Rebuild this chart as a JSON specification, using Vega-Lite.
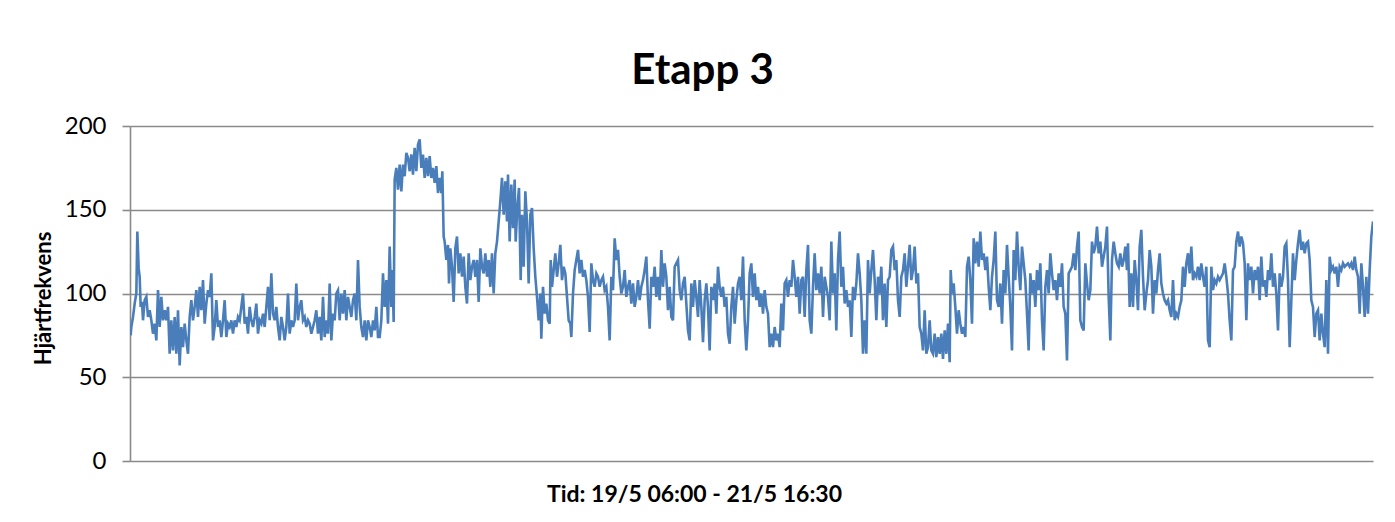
{
"$schema": "https://vega.github.io/schema/vega-lite/v6.json",
"width": 1243,
"height": 335,
"autosize": {"type": "none"},
"padding": {"left": 130, "top": 126, "right": 22, "bottom": 61},
"background": "white",
"title": {"text": "Etapp 3", "font": "Lato", "fontSize": 42, "fontWeight": "bold", "color": "#000000", "anchor": "middle", "frame": "bounds", "offset": 21},
"data": {"values": [
{"u":8,"v":75},{"u":10,"v":80},{"u":15,"v":86},{"u":20,"v":94},{"u":25,"v":100},{"u":28,"v":137},{"u":32,"v":115},{"u":35,"v":110},{"u":38,"v":92},{"u":42,"v":95},{"u":45,"v":84},{"u":50,"v":96},{"u":55,"v":98},{"u":60,"v":86},{"u":65,"v":90},{"u":70,"v":84},{"u":75,"v":76},{"u":80,"v":82},{"u":85,"v":72},{"u":90,"v":102},{"u":95,"v":80},{"u":100,"v":98},{"u":105,"v":84},{"u":110,"v":90},{"u":115,"v":84},{"u":120,"v":92},{"u":125,"v":64},{"u":130,"v":84},{"u":135,"v":66},{"u":140,"v":86},{"u":145,"v":64},{"u":150,"v":90},{"u":155,"v":57},{"u":160,"v":80},{"u":165,"v":68},{"u":170,"v":82},{"u":175,"v":72},{"u":180,"v":64},{"u":185,"v":86},{"u":190,"v":96},{"u":195,"v":84},{"u":200,"v":92},{"u":205,"v":102},{"u":210,"v":86},{"u":215,"v":104},{"u":220,"v":90},{"u":225,"v":108},{"u":230,"v":82},{"u":235,"v":94},{"u":240,"v":102},{"u":245,"v":98},{"u":250,"v":112},{"u":255,"v":72},{"u":260,"v":80},{"u":265,"v":96},{"u":270,"v":80},{"u":275,"v":84},{"u":280,"v":74},{"u":285,"v":84},{"u":290,"v":96},{"u":295,"v":74},{"u":300,"v":82},{"u":305,"v":80},{"u":310,"v":84},{"u":315,"v":76},{"u":320,"v":84},{"u":325,"v":80},{"u":330,"v":86},{"u":335,"v":84},{"u":340,"v":92},{"u":345,"v":100},{"u":350,"v":82},{"u":355,"v":86},{"u":360,"v":76},{"u":365,"v":92},{"u":370,"v":84},{"u":375,"v":80},{"u":380,"v":86},{"u":385,"v":94},{"u":390,"v":76},{"u":395,"v":84},{"u":400,"v":82},{"u":405,"v":88},{"u":410,"v":80},{"u":415,"v":92},{"u":420,"v":104},{"u":425,"v":84},{"u":430,"v":112},{"u":435,"v":88},{"u":440,"v":84},{"u":445,"v":92},{"u":450,"v":80},{"u":455,"v":72},{"u":460,"v":86},{"u":465,"v":80},{"u":470,"v":72},{"u":475,"v":80},{"u":480,"v":100},{"u":485,"v":76},{"u":490,"v":84},{"u":495,"v":80},{"u":500,"v":84},{"u":505,"v":106},{"u":510,"v":84},{"u":515,"v":92},{"u":520,"v":96},{"u":525,"v":84},{"u":530,"v":86},{"u":535,"v":80},{"u":540,"v":84},{"u":545,"v":82},{"u":550,"v":76},{"u":555,"v":80},{"u":560,"v":84},{"u":565,"v":90},{"u":570,"v":76},{"u":575,"v":86},{"u":580,"v":72},{"u":585,"v":98},{"u":590,"v":74},{"u":595,"v":84},{"u":600,"v":76},{"u":605,"v":106},{"u":610,"v":72},{"u":615,"v":88},{"u":620,"v":84},{"u":625,"v":100},{"u":630,"v":102},{"u":635,"v":84},{"u":640,"v":100},{"u":645,"v":88},{"u":650,"v":102},{"u":655,"v":84},{"u":660,"v":98},{"u":665,"v":92},{"u":670,"v":86},{"u":675,"v":96},{"u":680,"v":100},{"u":685,"v":84},{"u":690,"v":120},{"u":695,"v":92},{"u":700,"v":80},{"u":705,"v":74},{"u":710,"v":84},{"u":715,"v":72},{"u":720,"v":84},{"u":725,"v":80},{"u":730,"v":74},{"u":735,"v":84},{"u":740,"v":78},{"u":745,"v":92},{"u":750,"v":74},
{"u":755,"v":74},{"u":760,"v":84},{"u":765,"v":112},{"u":770,"v":92},{"u":775,"v":108},{"u":780,"v":82},{"u":785,"v":128},{"u":790,"v":92},{"u":793,"v":114},{"u":797,"v":83},{"u":800,"v":168},{"u":805,"v":175},{"u":810,"v":162},{"u":815,"v":177},{"u":820,"v":161},{"u":825,"v":177},{"u":830,"v":170},{"u":835,"v":184},{"u":840,"v":181},{"u":845,"v":173},{"u":850,"v":183},{"u":855,"v":171},{"u":860,"v":187},{"u":865,"v":173},{"u":870,"v":189},{"u":875,"v":192},{"u":880,"v":175},{"u":885,"v":183},{"u":890,"v":169},{"u":895,"v":181},{"u":900,"v":170},{"u":905,"v":182},{"u":910,"v":169},{"u":915,"v":175},{"u":920,"v":166},{"u":925,"v":176},{"u":930,"v":160},{"u":935,"v":169},{"u":940,"v":160},{"u":943,"v":173},{"u":947,"v":134},{"u":950,"v":131},{"u":955,"v":120},{"u":960,"v":129},{"u":963,"v":106},{"u":967,"v":127},{"u":972,"v":116},{"u":977,"v":95},{"u":982,"v":127},{"u":987,"v":134},{"u":992,"v":112},{"u":997,"v":124},{"u":1002,"v":110},{"u":1007,"v":122},{"u":1012,"v":104},{"u":1017,"v":94},{"u":1022,"v":124},{"u":1027,"v":108},{"u":1032,"v":116},{"u":1037,"v":120},{"u":1042,"v":110},{"u":1047,"v":120},{"u":1052,"v":95},{"u":1057,"v":127},{"u":1062,"v":116},{"u":1067,"v":112},{"u":1072,"v":124},{"u":1077,"v":110},{"u":1082,"v":120},{"u":1087,"v":104},{"u":1092,"v":124},{"u":1097,"v":100},{"u":1102,"v":124},{"u":1107,"v":131},{"u":1112,"v":143},{"u":1117,"v":155},{"u":1122,"v":169},{"u":1127,"v":147},{"u":1132,"v":167},{"u":1137,"v":143},{"u":1140,"v":171},{"u":1145,"v":131},{"u":1150,"v":165},{"u":1155,"v":139},{"u":1160,"v":168},{"u":1163,"v":131},{"u":1168,"v":151},{"u":1173,"v":163},{"u":1178,"v":108},{"u":1182,"v":147},{"u":1187,"v":116},{"u":1192,"v":161},{"u":1197,"v":143},{"u":1202,"v":106},{"u":1207,"v":147},{"u":1212,"v":151},{"u":1217,"v":127},{"u":1222,"v":110},{"u":1227,"v":98},{"u":1232,"v":84},{"u":1237,"v":100},{"u":1240,"v":73},{"u":1245,"v":104},{"u":1250,"v":88},{"u":1255,"v":94},{"u":1260,"v":84},{"u":1265,"v":82},{"u":1268,"v":120},{"u":1272,"v":104},{"u":1277,"v":114},{"u":1282,"v":124},{"u":1287,"v":110},{"u":1292,"v":118},{"u":1297,"v":129},{"u":1302,"v":108},{"u":1307,"v":116},{"u":1312,"v":112},{"u":1317,"v":98},{"u":1322,"v":84},{"u":1327,"v":82},{"u":1330,"v":74},{"u":1335,"v":100},{"u":1340,"v":114},{"u":1345,"v":120},{"u":1350,"v":126},{"u":1355,"v":112},{"u":1360,"v":120},{"u":1365,"v":110},{"u":1370,"v":114},{"u":1375,"v":108},{"u":1380,"v":98},{"u":1385,"v":77},{"u":1390,"v":118},{"u":1395,"v":108},{"u":1400,"v":104},{"u":1405,"v":112},{"u":1410,"v":110},{"u":1415,"v":104},{"u":1420,"v":108},{"u":1425,"v":110},{"u":1430,"v":102},{"u":1435,"v":104},{"u":1440,"v":92},{"u":1445,"v":72},{"u":1450,"v":110},{"u":1455,"v":102},{"u":1460,"v":133},{"u":1465,"v":120},{"u":1470,"v":126},{"u":1475,"v":110},{"u":1480,"v":100},{"u":1485,"v":104},{"u":1490,"v":114},{"u":1495,"v":98},{"u":1500,"v":104},
{"u":1505,"v":108},{"u":1510,"v":94},{"u":1515,"v":106},{"u":1520,"v":92},{"u":1525,"v":98},{"u":1530,"v":108},{"u":1535,"v":96},{"u":1540,"v":104},{"u":1545,"v":108},{"u":1550,"v":114},{"u":1555,"v":122},{"u":1560,"v":96},{"u":1565,"v":79},{"u":1570,"v":110},{"u":1575,"v":104},{"u":1580,"v":116},{"u":1585,"v":98},{"u":1590,"v":110},{"u":1595,"v":96},{"u":1600,"v":126},{"u":1605,"v":104},{"u":1610,"v":118},{"u":1615,"v":110},{"u":1620,"v":90},{"u":1625,"v":104},{"u":1630,"v":86},{"u":1635,"v":84},{"u":1640,"v":116},{"u":1645,"v":118},{"u":1650,"v":120},{"u":1655,"v":102},{"u":1660,"v":96},{"u":1665,"v":106},{"u":1670,"v":110},{"u":1675,"v":94},{"u":1680,"v":78},{"u":1685,"v":72},{"u":1690,"v":106},{"u":1695,"v":92},{"u":1700,"v":108},{"u":1705,"v":98},{"u":1710,"v":86},{"u":1715,"v":108},{"u":1720,"v":92},{"u":1725,"v":71},{"u":1730,"v":96},{"u":1735,"v":106},{"u":1740,"v":92},{"u":1745,"v":66},{"u":1750,"v":104},{"u":1755,"v":96},{"u":1760,"v":106},{"u":1765,"v":88},{"u":1770,"v":116},{"u":1775,"v":104},{"u":1780,"v":98},{"u":1785,"v":104},{"u":1790,"v":92},{"u":1795,"v":98},{"u":1800,"v":76},{"u":1805,"v":70},{"u":1810,"v":92},{"u":1815,"v":104},{"u":1820,"v":82},{"u":1825,"v":96},{"u":1830,"v":106},{"u":1835,"v":110},{"u":1840,"v":96},{"u":1845,"v":122},{"u":1850,"v":84},{"u":1855,"v":66},{"u":1860,"v":84},{"u":1865,"v":112},{"u":1870,"v":118},{"u":1875,"v":98},{"u":1880,"v":112},{"u":1885,"v":96},{"u":1890,"v":104},{"u":1895,"v":92},{"u":1900,"v":100},{"u":1905,"v":88},{"u":1910,"v":102},{"u":1915,"v":92},{"u":1920,"v":88},{"u":1925,"v":68},{"u":1930,"v":76},{"u":1935,"v":68},{"u":1940,"v":80},{"u":1945,"v":72},{"u":1950,"v":76},{"u":1955,"v":68},{"u":1960,"v":94},{"u":1965,"v":78},{"u":1970,"v":106},{"u":1975,"v":108},{"u":1980,"v":98},{"u":1985,"v":108},{"u":1990,"v":104},{"u":1995,"v":120},{"u":2000,"v":110},{"u":2005,"v":98},{"u":2010,"v":110},{"u":2015,"v":88},{"u":2020,"v":108},{"u":2025,"v":110},{"u":2030,"v":86},{"u":2035,"v":114},{"u":2040,"v":129},{"u":2045,"v":84},{"u":2050,"v":76},{"u":2055,"v":104},{"u":2060,"v":124},{"u":2065,"v":102},{"u":2070,"v":112},{"u":2075,"v":100},{"u":2080,"v":116},{"u":2085,"v":86},{"u":2090,"v":110},{"u":2095,"v":104},{"u":2100,"v":98},{"u":2105,"v":84},{"u":2110,"v":131},{"u":2115,"v":100},{"u":2120,"v":112},{"u":2125,"v":78},{"u":2130,"v":120},{"u":2135,"v":137},{"u":2140,"v":104},{"u":2145,"v":116},{"u":2150,"v":94},{"u":2155,"v":102},{"u":2160,"v":92},{"u":2165,"v":96},{"u":2170,"v":74},{"u":2175,"v":104},{"u":2180,"v":96},{"u":2185,"v":106},{"u":2190,"v":124},{"u":2195,"v":112},{"u":2200,"v":96},{"u":2205,"v":64},{"u":2210,"v":84},{"u":2215,"v":64},{"u":2220,"v":120},{"u":2225,"v":100},{"u":2230,"v":114},{"u":2235,"v":126},{"u":2240,"v":108},{"u":2245,"v":84},{"u":2250,"v":110},
{"u":2255,"v":100},{"u":2260,"v":116},{"u":2265,"v":84},{"u":2270,"v":106},{"u":2275,"v":80},{"u":2280,"v":108},{"u":2285,"v":110},{"u":2290,"v":126},{"u":2295,"v":128},{"u":2300,"v":114},{"u":2305,"v":120},{"u":2310,"v":96},{"u":2315,"v":86},{"u":2320,"v":110},{"u":2325,"v":114},{"u":2330,"v":124},{"u":2335,"v":104},{"u":2340,"v":116},{"u":2345,"v":129},{"u":2350,"v":108},{"u":2355,"v":114},{"u":2360,"v":128},{"u":2365,"v":106},{"u":2370,"v":112},{"u":2375,"v":80},{"u":2380,"v":76},{"u":2385,"v":66},{"u":2390,"v":90},{"u":2395,"v":64},{"u":2400,"v":68},{"u":2405,"v":84},{"u":2410,"v":66},{"u":2415,"v":64},{"u":2420,"v":76},{"u":2425,"v":62},{"u":2430,"v":74},{"u":2435,"v":64},{"u":2440,"v":76},{"u":2445,"v":61},{"u":2450,"v":78},{"u":2455,"v":64},{"u":2460,"v":82},{"u":2465,"v":59},{"u":2468,"v":114},{"u":2472,"v":100},{"u":2477,"v":106},{"u":2482,"v":92},{"u":2487,"v":76},{"u":2492,"v":90},{"u":2497,"v":82},{"u":2502,"v":76},{"u":2507,"v":80},{"u":2512,"v":74},{"u":2517,"v":116},{"u":2522,"v":122},{"u":2527,"v":108},{"u":2532,"v":82},{"u":2537,"v":133},{"u":2542,"v":118},{"u":2547,"v":131},{"u":2552,"v":116},{"u":2557,"v":137},{"u":2562,"v":120},{"u":2567,"v":124},{"u":2572,"v":114},{"u":2577,"v":122},{"u":2582,"v":104},{"u":2587,"v":90},{"u":2592,"v":110},{"u":2597,"v":120},{"u":2602,"v":137},{"u":2607,"v":96},{"u":2612,"v":92},{"u":2617,"v":106},{"u":2622,"v":82},{"u":2627,"v":114},{"u":2632,"v":100},{"u":2637,"v":129},{"u":2642,"v":110},{"u":2647,"v":92},{"u":2652,"v":66},{"u":2657,"v":126},{"u":2662,"v":108},{"u":2667,"v":137},{"u":2672,"v":116},{"u":2677,"v":102},{"u":2682,"v":128},{"u":2687,"v":118},{"u":2692,"v":108},{"u":2697,"v":88},{"u":2702,"v":66},{"u":2707,"v":112},{"u":2712,"v":100},{"u":2717,"v":108},{"u":2722,"v":92},{"u":2727,"v":114},{"u":2732,"v":102},{"u":2737,"v":118},{"u":2742,"v":84},{"u":2747,"v":66},{"u":2752,"v":104},{"u":2757,"v":114},{"u":2762,"v":100},{"u":2767,"v":124},{"u":2772,"v":112},{"u":2777,"v":102},{"u":2782,"v":108},{"u":2787,"v":96},{"u":2792,"v":112},{"u":2797,"v":104},{"u":2802,"v":118},{"u":2807,"v":92},{"u":2812,"v":88},{"u":2817,"v":60},{"u":2822,"v":112},{"u":2827,"v":114},{"u":2832,"v":116},{"u":2837,"v":124},{"u":2842,"v":114},{"u":2847,"v":128},{"u":2852,"v":137},{"u":2857,"v":84},{"u":2862,"v":80},{"u":2867,"v":78},{"u":2872,"v":118},{"u":2877,"v":106},{"u":2882,"v":96},{"u":2887,"v":102},{"u":2892,"v":131},{"u":2897,"v":124},{"u":2902,"v":128},{"u":2907,"v":140},{"u":2912,"v":124},{"u":2917,"v":131},{"u":2922,"v":116},{"u":2927,"v":122},{"u":2932,"v":128},{"u":2937,"v":140},{"u":2942,"v":98},{"u":2947,"v":72},{"u":2952,"v":120},{"u":2957,"v":131},{"u":2962,"v":124},{"u":2967,"v":118},{"u":2972,"v":116},{"u":2977,"v":124},{"u":2982,"v":116},{"u":2987,"v":120},{"u":2992,"v":128},{"u":2997,"v":114},
{"u":3000,"v":130},{"u":3005,"v":92},{"u":3010,"v":112},{"u":3015,"v":92},{"u":3020,"v":120},{"u":3025,"v":108},{"u":3030,"v":90},{"u":3035,"v":128},{"u":3040,"v":138},{"u":3045,"v":110},{"u":3050,"v":90},{"u":3055,"v":100},{"u":3060,"v":108},{"u":3065,"v":126},{"u":3070,"v":116},{"u":3075,"v":88},{"u":3080,"v":108},{"u":3085,"v":100},{"u":3090,"v":114},{"u":3095,"v":124},{"u":3100,"v":106},{"u":3105,"v":100},{"u":3110,"v":96},{"u":3115,"v":94},{"u":3120,"v":96},{"u":3125,"v":90},{"u":3130,"v":86},{"u":3135,"v":108},{"u":3140,"v":84},{"u":3145,"v":88},{"u":3150,"v":86},{"u":3155,"v":92},{"u":3160,"v":96},{"u":3165,"v":116},{"u":3170,"v":104},{"u":3175,"v":118},{"u":3180,"v":124},{"u":3185,"v":112},{"u":3190,"v":128},{"u":3195,"v":108},{"u":3200,"v":112},{"u":3205,"v":110},{"u":3210,"v":116},{"u":3215,"v":108},{"u":3220,"v":118},{"u":3225,"v":110},{"u":3230,"v":104},{"u":3235,"v":116},{"u":3240,"v":72},{"u":3245,"v":68},{"u":3250,"v":116},{"u":3255,"v":102},{"u":3260,"v":108},{"u":3265,"v":106},{"u":3270,"v":110},{"u":3275,"v":108},{"u":3280,"v":110},{"u":3285,"v":112},{"u":3290,"v":118},{"u":3295,"v":110},{"u":3300,"v":100},{"u":3305,"v":84},{"u":3310,"v":72},{"u":3315,"v":114},{"u":3320,"v":116},{"u":3325,"v":131},{"u":3330,"v":137},{"u":3335,"v":128},{"u":3340,"v":134},{"u":3345,"v":130},{"u":3350,"v":118},{"u":3355,"v":84},{"u":3360,"v":118},{"u":3365,"v":108},{"u":3370,"v":116},{"u":3375,"v":100},{"u":3380,"v":114},{"u":3385,"v":108},{"u":3390,"v":116},{"u":3395,"v":96},{"u":3400,"v":122},{"u":3405,"v":104},{"u":3410,"v":108},{"u":3415,"v":98},{"u":3420,"v":114},{"u":3425,"v":108},{"u":3430,"v":124},{"u":3435,"v":104},{"u":3440,"v":112},{"u":3445,"v":100},{"u":3450,"v":78},{"u":3455,"v":112},{"u":3460,"v":104},{"u":3465,"v":110},{"u":3470,"v":128},{"u":3475,"v":130},{"u":3480,"v":108},{"u":3485,"v":68},{"u":3490,"v":96},{"u":3495,"v":124},{"u":3500,"v":108},{"u":3505,"v":120},{"u":3510,"v":130},{"u":3515,"v":138},{"u":3520,"v":126},{"u":3525,"v":131},{"u":3530,"v":124},{"u":3535,"v":130},{"u":3540,"v":131},{"u":3545,"v":120},{"u":3550,"v":96},{"u":3555,"v":92},{"u":3560,"v":74},{"u":3565,"v":88},{"u":3570,"v":90},{"u":3575,"v":72},{"u":3580,"v":88},{"u":3585,"v":76},{"u":3590,"v":68},{"u":3595,"v":108},{"u":3600,"v":64},{"u":3605,"v":122},{"u":3610,"v":114},{"u":3615,"v":116},{"u":3620,"v":112},{"u":3625,"v":116},{"u":3630,"v":104},{"u":3635,"v":116},{"u":3640,"v":114},{"u":3645,"v":118},{"u":3650,"v":116},{"u":3655,"v":117},{"u":3660,"v":118},{"u":3665,"v":116},{"u":3670,"v":118},{"u":3675,"v":114},{"u":3680,"v":122},{"u":3685,"v":114},{"u":3690,"v":110},{"u":3695,"v":88},{"u":3700,"v":118},{"u":3705,"v":104},{"u":3710,"v":86},{"u":3715,"v":110},{"u":3720,"v":88},{"u":3725,"v":114},{"u":3730,"v":134},{"u":3735,"v":143}
]},
"mark": {"type": "line", "color": "#4a7ebb", "strokeWidth": 2.6, "clip": true},
"encoding": {
"x": {"field": "u", "type": "quantitative", "scale": {"domain": [6, 3735], "nice": false, "zero": false},
"axis": {"title": "Tid: 19/5 06:00 - 21/5 16:30", "labels": false, "ticks": false, "grid": false, "domain": false, "titleFont": "Lato", "titleFontSize": 23, "titleFontWeight": "bold", "titleColor": "#000000", "titlePadding": 22, "titleX": 564}},
"y": {"field": "v", "type": "quantitative", "scale": {"domain": [0, 200], "nice": false},
"axis": {"title": "Hjärtfrekvens", "values": [0, 50, 100, 150, 200], "gridColor": "#8a8a8a", "gridWidth": 1.6, "gridOpacity": 1, "domainColor": "#8a8a8a", "domainWidth": 1.6, "tickColor": "#8a8a8a", "tickWidth": 1.6, "tickSize": 8, "labelFont": "Lato", "labelFontSize": 24, "labelColor": "#000000", "labelPadding": 16, "titleFont": "Lato", "titleFontSize": 22, "titleFontWeight": "bold", "titleColor": "#000000", "titlePadding": 9, "titleY": 172}}
},
"config": {"view": {"stroke": null}}
}
